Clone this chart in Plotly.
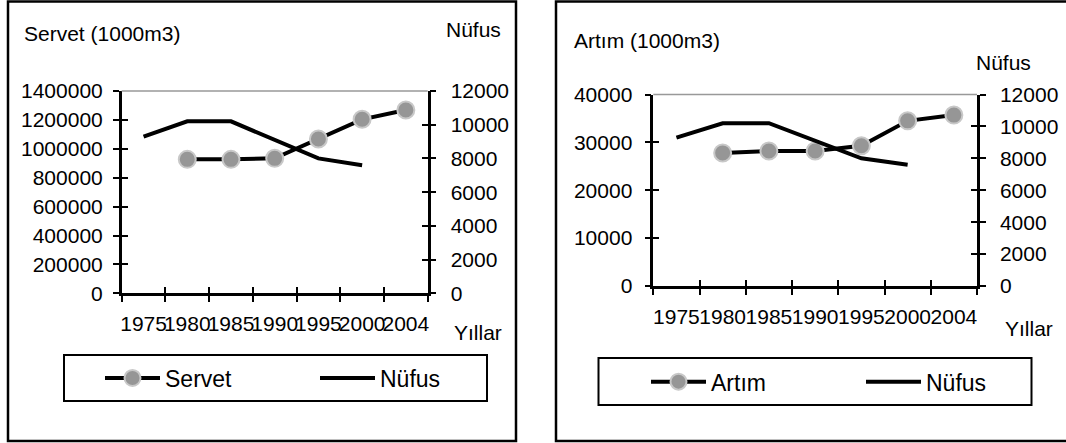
import plotly.graph_objects as go

# ---- data ----
years = ["1975", "1980", "1985", "1990", "1995", "2000", "2004"]
nufus_years = ["1975", "1980", "1985", "1990", "1995", "2000"]
nufus = [9300, 10200, 10200, 9100, 8000, 7600]
servet_years = ["1980", "1985", "1990", "1995", "2000", "2004"]
servet = [927000, 927000, 934000, 1068000, 1204000, 1269000]
artim_years = ["1980", "1985", "1990", "1995", "2000", "2004"]
artim = [27800, 28200, 28200, 29300, 34500, 35700]

W, H = 1066, 443
def px(x): return x / W
def py(y): return 1 - y / H

FONT = "Liberation Sans, Arial, sans-serif"
TICKF = dict(family=FONT, size=21, color="black")
MARK = dict(size=17, color="#969696", line=dict(color="#c8c8c8", width=2))

fig = go.Figure()
fig.add_trace(go.Scatter(x=servet_years, y=servet, name="Servet", mode="lines+markers",
                         line=dict(color="black", width=4), marker=MARK,
                         xaxis="x", yaxis="y", legend="legend"))
fig.add_trace(go.Scatter(x=nufus_years, y=nufus, name="Nüfus", mode="lines",
                         line=dict(color="black", width=4),
                         xaxis="x", yaxis="y2", legend="legend"))
fig.add_trace(go.Scatter(x=artim_years, y=artim, name="Artım", mode="lines+markers",
                         line=dict(color="black", width=4), marker=MARK,
                         xaxis="x2", yaxis="y3", legend="legend2"))
fig.add_trace(go.Scatter(x=nufus_years, y=nufus, name="Nüfus", mode="lines",
                         line=dict(color="black", width=4),
                         xaxis="x2", yaxis="y4", legend="legend2"))

# empty traces so the inside-tick overlay axes (for crossing ticks) are drawn
empty = [None] * len(years)
for xa, ya in [("x", "y5"), ("x", "y6"), ("x3", "y"), ("x2", "y7"), ("x2", "y8"), ("x4", "y3")]:
    fig.add_trace(go.Scatter(x=years, y=empty, mode="lines", showlegend=False,
                             hoverinfo="skip", xaxis=xa, yaxis=ya))

def xax(domain, anchor, inside=False, overlay=None):
    d = dict(type="category", categoryorder="array", categoryarray=years,
             range=[-0.5, 6.5], tickson="boundaries", showgrid=False, zeroline=False,
             ticks="inside" if inside else "outside", ticklen=6, tickwidth=2, tickcolor="black",
             anchor=anchor, tickfont=TICKF, fixedrange=True, tickangle=0)
    if overlay:
        d.update(overlaying=overlay, showticklabels=False, showline=False)
    else:
        d.update(domain=domain, showline=True, linecolor="black", linewidth=2.5,
                 ticklabelstandoff=10)
    return d

def yax(rng, dtick, anchor, side="left", domain=None, overlay=None, inside=False, standoff=8):
    d = dict(range=rng, dtick=dtick, tickformat="d", showgrid=False, zeroline=False,
             ticks="inside" if inside else "outside", ticklen=6, tickwidth=2, tickcolor="black",
             anchor=anchor, side=side, tickfont=TICKF, fixedrange=True)
    if domain is not None:
        d["domain"] = domain
    if overlay:
        d["overlaying"] = overlay
    if inside:
        d.update(showticklabels=False, showline=False)
    else:
        d.update(showline=True, linecolor="black", linewidth=2.5, ticklabelstandoff=standoff)
    return d

LX = [px(121.7), px(427.7)]
LY = [py(293.3), py(91)]
RX = [px(653.3), px(977)]
RY = [py(286), py(94.5)]

LEGF = dict(family=FONT, size=23, color="black")
fig.update_layout(
    width=W, height=H, margin=dict(l=0, r=0, t=0, b=0, autoexpand=False),
    paper_bgcolor="white", plot_bgcolor="rgba(0,0,0,0)",
    font=dict(family=FONT, color="black"),
    xaxis=xax(LX, "y"),
    xaxis3=xax(None, "y", inside=True, overlay="x"),
    yaxis=yax([0, 1400000], 200000, "x", domain=LY, standoff=6),
    yaxis2=yax([0, 12000], 2000, "x", side="right", overlay="y", standoff=10),
    yaxis5=yax([0, 1400000], 200000, "x", overlay="y", inside=True),
    yaxis6=yax([0, 12000], 2000, "x", side="right", overlay="y", inside=True),
    xaxis2=xax(RX, "y3"),
    xaxis4=xax(None, "y3", inside=True, overlay="x2"),
    yaxis3=yax([0, 40000], 10000, "x2", domain=RY, standoff=8),
    yaxis4=yax([0, 12000], 2000, "x2", side="right", overlay="y3", standoff=10),
    yaxis7=yax([0, 40000], 10000, "x2", overlay="y3", inside=True),
    yaxis8=yax([0, 12000], 2000, "x2", side="right", overlay="y3", inside=True),
    legend=dict(x=px(100), y=py(378), xanchor="left", yanchor="middle", orientation="h",
                font=LEGF, bgcolor="rgba(0,0,0,0)",
                borderwidth=0, itemwidth=55, entrywidth=145, itemclick=False),
    legend2=dict(x=px(646), y=py(381.7), xanchor="left", yanchor="middle", orientation="h",
                 font=LEGF, bgcolor="rgba(0,0,0,0)",
                 borderwidth=0, itemwidth=55, entrywidth=145, itemclick=False),
    showlegend=True,
)

shapes = [
    # outer frames
    dict(type="rect", xref="paper", yref="paper", x0=px(8), x1=px(516), y0=py(441), y1=py(1.5),
         line=dict(color="black", width=2.5)),
    dict(type="rect", xref="paper", yref="paper", x0=px(556), x1=px(1075), y0=py(441), y1=py(1.5),
         line=dict(color="black", width=2.5)),
    # legend boxes
    dict(type="rect", xref="paper", yref="paper", x0=px(64), x1=px(487), y0=py(401), y1=py(355),
         line=dict(color="black", width=2)),
    dict(type="rect", xref="paper", yref="paper", x0=px(598.5), x1=px(1031.5), y0=py(405), y1=py(358),
         line=dict(color="black", width=2)),
    # gray top border of plot areas
    dict(type="line", xref="x domain", yref="y domain", x0=0, x1=1, y0=1, y1=1,
         line=dict(color="#999999", width=1.5)),
    dict(type="line", xref="x2 domain", yref="y3 domain", x0=0, x1=1, y0=1, y1=1,
         line=dict(color="#999999", width=1.5)),
]
fig.update_layout(shapes=shapes)

AF = dict(family=FONT, size=21, color="black")
ann = [
    dict(text="Servet (1000m3)", x=px(22), y=py(33), xanchor="left"),
    dict(text="Nüfus", x=px(473), y=py(30), xanchor="center"),
    dict(text="Yıllar", x=px(478), y=py(332), xanchor="center"),
    dict(text="Artım (1000m3)", x=px(571.5), y=py(41), xanchor="left"),
    dict(text="Nüfus", x=px(1003), y=py(62), xanchor="center"),
    dict(text="Yıllar", x=px(1028.5), y=py(328), xanchor="center"),
]
for a in ann:
    fig.add_annotation(xref="paper", yref="paper", yanchor="middle", showarrow=False,
                       font=AF, **a)

fig.write_html("out.html", config={"displayModeBar": False, "responsive": False},
               post_script="document.body.style.margin='0';"
                           "document.documentElement.style.overflow='hidden';"
                           "document.body.style.overflow='hidden';")
